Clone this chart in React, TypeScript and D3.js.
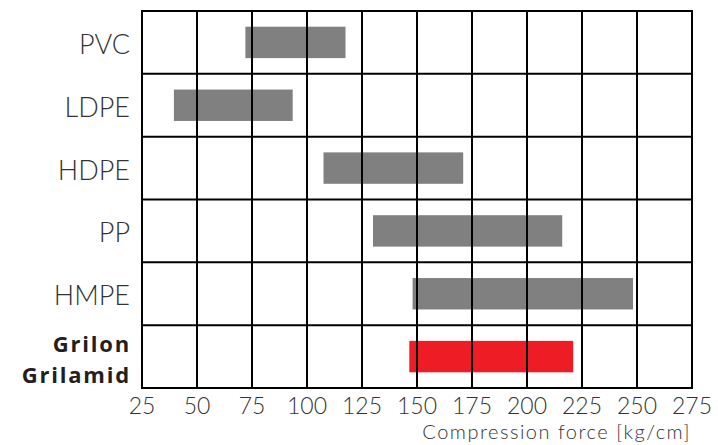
import React from "react";
import * as d3 from "d3";

const categories = ["PVC", "LDPE", "HDPE", "PP", "HMPE", "Grilon Grilamid"];
const minValues = [72, 39.5, 107.5, 130, 148, 146.5];
const maxValues = [117.5, 93.5, 171, 216, 248.2, 221];
const barColors = ["#808080", "#808080", "#808080", "#808080", "#808080", "#ee1c25"];
const xTicks = [25, 50, 75, 100, 125, 150, 175, 200, 225, 250, 275];
const xTitle = "Compression force [kg/cm]";
const boldLabelLines = ["Grilon", "Grilamid"];

export default function App() {
  const W = 718, H = 445;
  const left = 142, right = 692, top = 11, bottom = 388;
  const x = d3.scaleLinear().domain([25, 275]).range([left, right]);
  const y = d3.scaleBand<string>().domain(categories).range([top, bottom]).paddingInner(0.5).paddingOuter(0.25);
  const step = (bottom - top) / categories.length;
  const rowLines = d3.range(categories.length + 1).map((i) => top + i * step);
  const lightFont = "Lato, 'Open Sans', sans-serif";
  return (
    <svg width={W} height={H} style={{ position: "absolute", left: 0, top: 0, background: "#fff" }}>
      {categories.map((c, i) => (
        <rect key={c} x={x(minValues[i])} y={y(c)!} width={x(maxValues[i]) - x(minValues[i])} height={y.bandwidth()} fill={barColors[i]} />
      ))}
      {xTicks.map((t) => (
        <line key={t} x1={x(t)} x2={x(t)} y1={top} y2={bottom} stroke="#000" strokeWidth={2} />
      ))}
      {rowLines.map((v, i) => (
        <line key={i} x1={left - 1} x2={right + 1} y1={v} y2={v} stroke="#000" strokeWidth={2} />
      ))}
      {categories.slice(0, 5).map((c, i) => (
        <text key={c} x={130} y={top + step * (i + 0.5) + 1} textAnchor="end" dominantBaseline="central"
          fontFamily={lightFont} fontWeight={300} fontSize={27} fill="#333">{c}</text>
      ))}
      {boldLabelLines.map((l, i) => (
        <text key={l} x={131} y={352 + i * 31} textAnchor="end" fontFamily="'Open Sans', Lato, sans-serif"
          fontWeight={700} fontSize={22} letterSpacing={1.8} fill="#231f20">{l}</text>
      ))}
      {xTicks.map((t) => (
        <text key={t} x={x(t)} y={405} textAnchor="middle" dominantBaseline="central"
          fontFamily={lightFont} fontWeight={300} fontSize={23} fill="#333">{t}</text>
      ))}
      <text x={691} y={439} textAnchor="end" fontFamily={lightFont} fontWeight={300} fontSize={20}
        letterSpacing={1.5} fill="#333">{xTitle}</text>
    </svg>
  );
}
